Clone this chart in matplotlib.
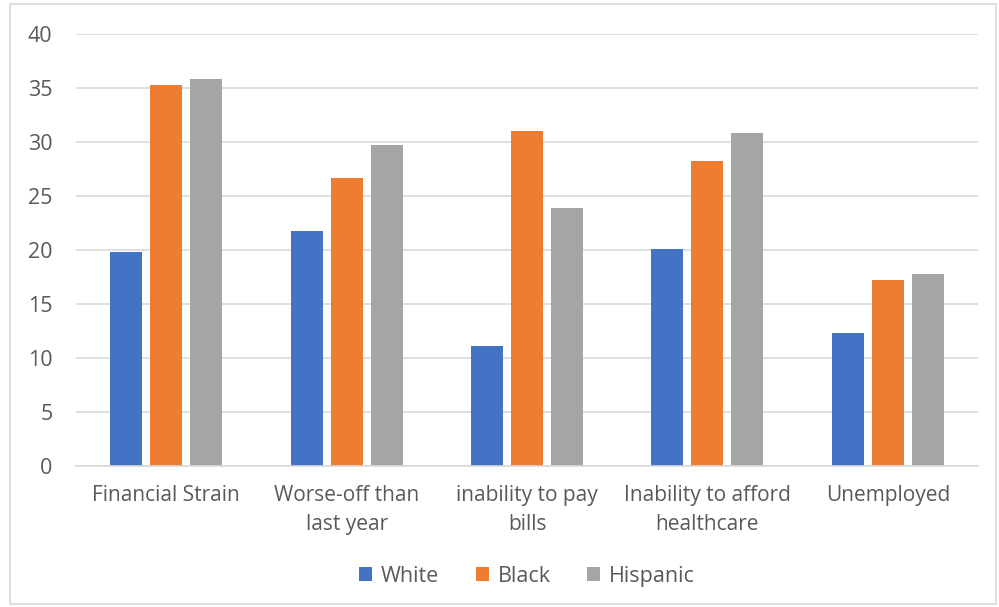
import matplotlib.pyplot as plt
import numpy as np
from matplotlib.patches import Rectangle

# categories and series values
categories = ['Financial Strain', 'Worse-off than\nlast year', 'inability to pay\nbills',
              'Inability to afford\nhealthcare', 'Unemployed']
white = [19.8, 21.8, 11.1, 20.1, 12.3]
black = [35.3, 26.7, 31.0, 28.2, 17.2]
hispanic = [35.8, 29.7, 23.9, 30.8, 17.8]

series = [('White', white, '#4472C4'),
          ('Black', black, '#ED7D31'),
          ('Hispanic', hispanic, '#A5A5A5')]

plt.rcParams['font.family'] = ['Open Sans', 'DejaVu Sans']
text_color = '#595959'

fig = plt.figure(figsize=(9.99, 6.07), dpi=100)
ax = fig.add_axes([76 / 999, 1 - 466 / 607, 902 / 999, 432 / 607])

# outer chart border
fig.patches.append(Rectangle((10 / 999, 3 / 607), 986 / 999, 600 / 607,
                             transform=fig.transFigure, fill=False,
                             edgecolor='#D9D9D9', linewidth=1.2))

x = np.arange(len(categories))
width = 0.177
step = 0.222
for i, (name, vals, color) in enumerate(series):
    ax.bar(x + (i - 1) * step, vals, width, color=color, label=name, zorder=2)

ax.set_xlim(-0.5, len(categories) - 0.5)
ax.set_ylim(0, 40)
ax.set_yticks(range(0, 41, 5))
ax.yaxis.grid(True, color='#D9D9D9', linewidth=1.2, zorder=0)
ax.set_axisbelow(True)
for s in ['top', 'right', 'left']:
    ax.spines[s].set_visible(False)
ax.spines['bottom'].set_color('#D9D9D9')
ax.spines['bottom'].set_linewidth(1.2)

ax.set_xticks(x)
ax.set_xticklabels(categories, fontsize=15, color=text_color, linespacing=1.45)
ax.tick_params(axis='x', length=0, pad=14)
ax.tick_params(axis='y', length=0, pad=17, labelsize=15.5, labelcolor=text_color)

leg = ax.legend(loc='center', bbox_to_anchor=(0.5, -0.255), ncol=3, frameon=False,
                fontsize=15.5, handlelength=0.6, handleheight=0.6,
                handletextpad=0.4, columnspacing=1.7, labelcolor=text_color)

fig.savefig('out.png', dpi=100, facecolor='white')
